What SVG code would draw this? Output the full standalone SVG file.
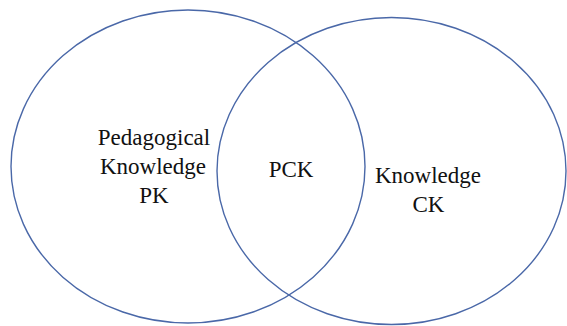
<svg xmlns="http://www.w3.org/2000/svg" width="567" height="326" viewBox="0 0 567 326">
  <style>
    .ring { fill: none; stroke: #4a68a8; stroke-width: 1.4; }
    .label { font-family: 'Liberation Serif', 'Times New Roman', Times, 'DejaVu Serif', serif; font-size: 23px; fill: #111; text-anchor: middle; }
  </style>
  <rect width="567" height="326" fill="#ffffff"/>
  <!-- Pedagogical knowledge set -->
  <g id="pk">
    <ellipse class="ring" cx="188" cy="166.5" rx="177" ry="156.5"/>
    <text class="label" x="154" y="145" font-family="Liberation Serif">Pedagogical</text>
    <text class="label" x="153" y="174" font-family="Liberation Serif">Knowledge</text>
    <text class="label" x="154" y="203" font-family="Liberation Serif">PK</text>
  </g>
  <!-- Content knowledge set -->
  <g id="ck">
    <ellipse class="ring" cx="391.5" cy="171" rx="174.5" ry="153.5"/>
    <text class="label" x="428" y="183" font-family="Liberation Serif">Knowledge</text>
    <text class="label" x="428.5" y="212" font-family="Liberation Serif">CK</text>
  </g>
  <!-- Overlap -->
  <g id="pck">
    <text class="label" x="291" y="177" font-family="Liberation Serif">PCK</text>
  </g>
  <g id="connectors"></g>
</svg>
